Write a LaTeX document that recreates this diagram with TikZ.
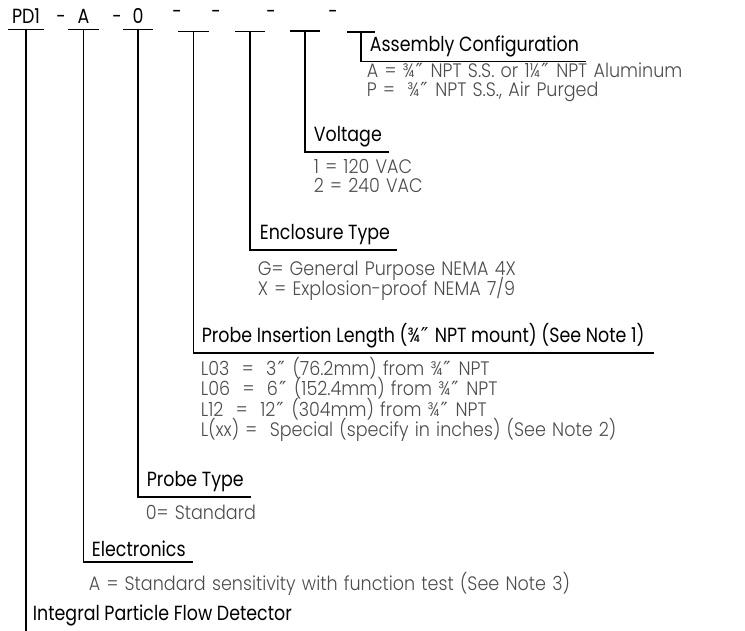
\documentclass[tikz,border=0pt]{standalone}
\usepackage{fontspec}
\setmainfont{Poppins}[FakeStretch=0.85]
\newfontfamily\lightfont{Poppins Light}[FakeStretch=0.9,Numbers=Monospaced,WordSpace=1.3]
\newfontfamily\primefont{DejaVu Sans}
\newcommand{\inch}{\kern1pt{\primefont ″}\kern1.5pt}
\usetikzlibrary{positioning}
\definecolor{desctext}{gray}{0.3}

\begin{document}
\begin{tikzpicture}[x=1pt,y=-1pt,line width=1.8pt,
    slot/.style={anchor=south,inner xsep=0pt,inner ysep=5pt,minimum width=29pt,
      font=\fontsize{20.5}{20.5}\selectfont},
    sepdash/.style={inner sep=0pt,font=\fontsize{20}{20}\selectfont},
    head/.style={anchor=south west,inner xsep=6pt,inner ysep=4pt,
      font=\fontsize{20.5}{20.5}\selectfont},
    desc/.style={anchor=base west,inner sep=0pt,text=desctext,
      font=\lightfont\fontsize{19.5}{19.5}\selectfont}]
  \useasboundingbox (0,0) rectangle (745,631);
  \node[slot,minimum width=34pt] (c1) at (26,29.5) {PD1};
  \node[slot] (c2) at (83.5,29.5) {A};
  \node[slot,minimum width=28pt] (c3) at (138,29.5) {0};
  \node[slot] (c4) at (193.5,31.5) {};
  \node[slot,minimum width=28pt] (c5) at (250,31.5) {};
  \node[slot,minimum width=28pt] (c6) at (305,31) {};
  \node[slot,minimum width=26pt] (c7) at (361,32) {};
  \node[sepdash] (s1) at (61,19) {-};
  \node[sepdash] (s2) at (117,19) {-};
  \node[sepdash] (s3) at (177,14) {-};
  \node[sepdash] (s4) at (216,14) {-};
  \node[sepdash] (s5) at (271,14) {-};
  \node[sepdash] (s6) at (333,14) {-};
  \foreach \k in {1,...,7} {
    \draw (c\k.south west) -- (c\k.south east);
  }

  \node[head] (h7) at (363,61.5) {Assembly Configuration};
  \node[desc] (d7a) at (366,78) {A = ¾\inch\ NPT S.S. or 1¼\inch\ NPT Aluminum};
  \node[desc] (d7b) at (366,97) {P =\ \ ¾\inch\ NPT S.S., Air Purged};
  \draw (c7.south) |- (h7.south east);

  \node[head] (h6) at (307,152) {Voltage};
  \node[desc] (d6a) at (313,174) {1 = 120 VAC};
  \node[desc] (d6b) at (313,193) {2 = 240 VAC};
  \draw (c6.south) |- (h6.south east);

  \node[head] (h5) at (253,250) {Enclosure Type};
  \node[desc] (d5a) at (257,276) {G= General Purpose NEMA 4X};
  \node[desc] (d5b) at (257,296) {X = Explosion-proof NEMA 7/9};
  \draw (c5.south) |- (h5.south east);

  \node[head,inner xsep=8pt] (h4) at (193,353) {Probe Insertion Length (¾\inch\ NPT mount) (See Note 1)};
  \node[desc] (d4a) at (200,375) {L03\ \ =\ \ 3\inch\ (76.2mm) from ¾\inch\ NPT};
  \node[desc] (d4b) at (200,395.5) {L06\ \ =\ \ 6\inch\ (152.4mm) from ¾\inch\ NPT};
  \node[desc] (d4c) at (200,416) {L12\ \ =\ \ 12\inch\ (304mm) from ¾\inch\ NPT};
  \node[desc] (d4d) at (200,436) {L(xx) =\ \ Special (specify in inches) (See Note 2)};
  \draw (c4.south) |- (h4.south east);

  \node[head] (h3) at (140,497) {Probe Type};
  \node[desc] (d3) at (145,519) {0= Standard};
  \draw (c3.south) |- (h3.south east);

  \node[head] (h2) at (85,562) {Electronics};
  \node[desc] (d2) at (88,590) {A = Standard sensitivity with function test (See Note 3)};
  \draw (c2.south) |- (h2.south east);

  \node[head,anchor=base west] (h1) at (26,620) {Integral Particle Flow Detector};
  \coordinate (end) at (26,631);
  \draw (c1.south) -- (end);
\end{tikzpicture}
\end{document}
